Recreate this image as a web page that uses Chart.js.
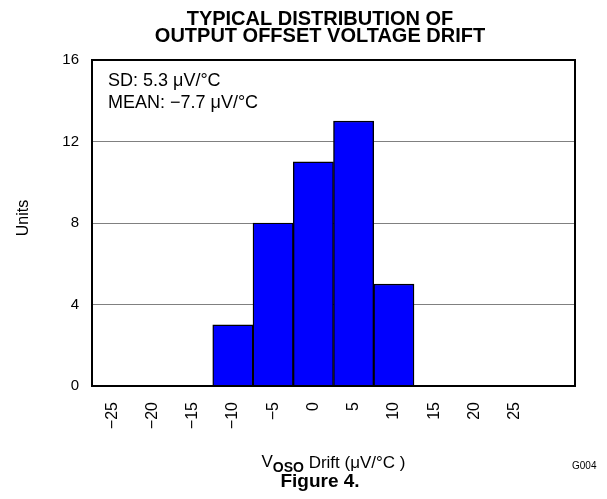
<!DOCTYPE html>
<html>
<head>
<meta charset="utf-8">
<script src="https://cdn.jsdelivr.net/npm/chart.js@4/dist/chart.umd.min.js"></script>
<style>
  html, body { margin: 0; padding: 0; background: #fff; }
  #wrap { width: 607px; height: 499px; position: relative; }
</style>
</head>
<body>
<div id="wrap"><canvas id="c" width="607" height="499"></canvas></div>
<script>
// ---- data ----
const titleLines = ['TYPICAL DISTRIBUTION OF', 'OUTPUT OFFSET VOLTAGE DRIFT'];
const categories = ['\u221225', '\u221220', '\u221215', '\u221210', '\u22125', '0', '5', '10', '15', '20', '25', ''];
const units = [0, 0, 0, 3, 8, 11, 13, 5, 0, 0, 0, 0];
const yMin = 0, yMax = 16, yStep = 4;
const statsLines = ['SD: 5.3 \u03bcV/\u00b0C', 'MEAN: \u22127.7 \u03bcV/\u00b0C'];
const yTitle = 'Units';
const xTitleMain = 'V', xTitleSub = 'OSO', xTitleRest = ' Drift (\u03bcV/\u00b0C )';
const figureLabel = 'Figure 4.';
const graphId = 'G004';

const FONT = '"Liberation Sans", Arial, Helvetica, sans-serif';

const decor = {
  id: 'decor',
  afterDraw(chart) {
    const ctx = chart.ctx;
    const a = chart.chartArea;
    ctx.save();
    // frame
    ctx.strokeStyle = '#000';
    ctx.lineWidth = 2;
    ctx.strokeRect(a.left, a.top, a.right - a.left, a.bottom - a.top);

    ctx.fillStyle = '#000';
    // title
    ctx.font = 'bold 20px ' + FONT;
    ctx.textAlign = 'center';
    ctx.textBaseline = 'middle';
    ctx.fillText(titleLines[0], 320, 19);
    ctx.fillText(titleLines[1], 320, 36);

    // stats annotation
    ctx.font = '18px ' + FONT;
    ctx.textAlign = 'left';
    ctx.fillText(statsLines[0], a.left + 16, 81);
    ctx.fillText(statsLines[1], a.left + 16, 103);

    // y title
    ctx.save();
    ctx.translate(24, 218);
    ctx.rotate(-Math.PI / 2);
    ctx.font = '16px ' + FONT;
    ctx.textAlign = 'center';
    ctx.fillText(yTitle, 0, 0);
    ctx.restore();

    // x title with subscript
    ctx.font = '17px ' + FONT;
    const wMain = ctx.measureText(xTitleMain).width;
    const wRest = ctx.measureText(xTitleRest).width;
    ctx.font = 'bold 14px ' + FONT;
    const wSub = ctx.measureText(xTitleSub).width;
    let x = (a.left + a.right) / 2 - (wMain + wSub + wRest) / 2;
    ctx.textAlign = 'left';
    ctx.font = '17px ' + FONT;
    ctx.fillText(xTitleMain, x, 462);
    x += wMain;
    ctx.font = 'bold 14px ' + FONT;
    ctx.fillText(xTitleSub, x, 468);
    x += wSub;
    ctx.font = '17px ' + FONT;
    ctx.fillText(xTitleRest, x, 463);

    // figure label
    ctx.font = 'bold 19px ' + FONT;
    ctx.textAlign = 'center';
    ctx.fillText(figureLabel, 320, 482);

    // graph id
    ctx.font = '10px ' + FONT;
    ctx.textAlign = 'left';
    ctx.fillText(graphId, 572, 466);
    ctx.restore();
  }
};

new Chart(document.getElementById('c'), {
  type: 'bar',
  data: {
    labels: categories,
    datasets: [{
      data: units,
      backgroundColor: '#0000ff',
      borderColor: '#000000',
      borderWidth: 1.4,
      barPercentage: 1.0,
      categoryPercentage: 1.0
    }]
  },
  options: {
    responsive: false,
    devicePixelRatio: 1,
    animation: false,
    layout: { padding: { top: 60, right: 32, left: 0, bottom: 0 } },
    plugins: {
      legend: { display: false },
      title: { display: false },
      tooltip: { enabled: false }
    },
    scales: {
      x: {
        grid: { display: false, drawTicks: false },
        border: { display: false },
        ticks: {
          autoSkip: false,
          minRotation: 90,
          maxRotation: 90,
          padding: 16,
          color: '#000',
          font: { family: FONT, size: 16 }
        },
        afterFit(scale) { scale.height = 113; }
      },
      y: {
        min: yMin,
        max: yMax,
        grid: { color: '#808080', lineWidth: 1, drawTicks: false },
        border: { display: false },
        ticks: {
          stepSize: yStep,
          padding: 13,
          color: '#000',
          font: { family: FONT, size: 15 }
        },
        afterFit(scale) { scale.width = 92; }
      }
    }
  },
  plugins: [decor]
});
</script>
</body>
</html>
